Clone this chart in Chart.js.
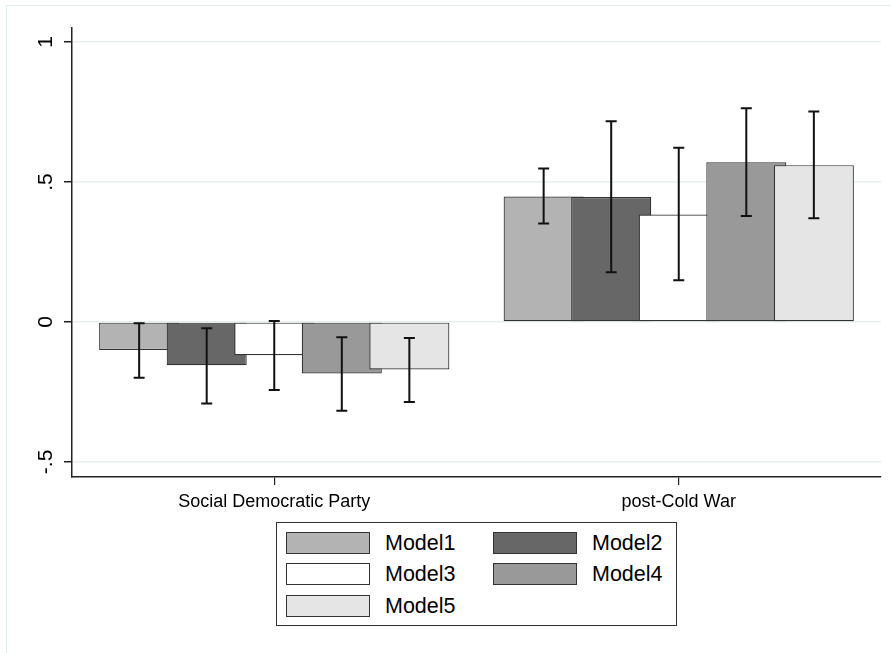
<!DOCTYPE html>
<html>
<head>
<meta charset="utf-8">
<script src="https://cdn.jsdelivr.net/npm/chart.js@4.4.0/dist/chart.umd.min.js"></script>
<style>
  html, body { margin: 0; padding: 0; background: #fff; }
  #wrap { position: relative; width: 891px; height: 653px; overflow: hidden; font-family: "Liberation Sans", Arial, sans-serif; }
  #frame { position: absolute; left: 6px; top: 5px; width: 900px; height: 700px; border-top: 1px solid #e4eef0; border-left: 1px solid #e4eef0; }
  #c { position: absolute; left: 0; top: 0; }
  #legend { position: absolute; left: 276px; top: 522px; width: 401px; height: 104px; border: 1px solid #333; box-sizing: border-box; background: #fff; }
  .sw { position: absolute; width: 84px; height: 22px; box-sizing: border-box; border: 1.5px solid #333; }
  .lb { position: absolute; font-size: 21.5px; line-height: 22px; color: #000; white-space: nowrap; }
</style>
</head>
<body>
<div id="wrap">
  <div id="frame"></div>
  <canvas id="c" width="891" height="653"></canvas>
  <div id="legend"></div>
</div>
<script>
// ---- data ----
const categories = ["Social Democratic Party", "post-Cold War"];
const seriesNames = ["Model1", "Model2", "Model3", "Model4", "Model5"];
const model1 = [-0.100, 0.448];
const model2 = [-0.155, 0.446];
const model3 = [-0.119, 0.384];
const model4 = [-0.184, 0.570];
const model5 = [-0.170, 0.560];
const lower1 = [-0.199, 0.352];
const upper1 = [-0.005, 0.548];
const lower2 = [-0.291, 0.177];
const upper2 = [-0.023, 0.717];
const lower3 = [-0.243, 0.149];
const upper3 = [0.003, 0.622];
const lower4 = [-0.317, 0.378];
const upper4 = [-0.055, 0.763];
const lower5 = [-0.286, 0.370];
const upper5 = [-0.057, 0.752];
const yTickValues = [-0.5, 0, 0.5, 1];
const yTickLabels = ["-.5", "0", ".5", "1"];
const fills = ["#b3b3b3", "#676767", "#ffffff", "#999999", "#e5e5e5"];

const values = [model1, model2, model3, model4, model5];
const lowers = [lower1, lower2, lower3, lower4, lower5];
const uppers = [upper1, upper2, upper3, upper4, upper5];

const datasets = seriesNames.map((name, i) => ({
  label: name,
  data: values[i],
  lower: lowers[i],
  upper: uppers[i],
  backgroundColor: fills[i],
  borderColor: "#333333",
  borderWidth: 1.2,
  borderSkipped: false,
  categoryPercentage: 0.835,
  barPercentage: 1.185
}));

// Draw datasets in forward order (later series overlap earlier), then error bars
const errorBarPlugin = {
  id: "errorBars",
  beforeDatasetsDraw(chart) {
    const ctx = chart.ctx;
    const area = chart.chartArea;
    const metas = chart.getSortedVisibleDatasetMetas();
    ctx.save();
    ctx.beginPath();
    ctx.rect(area.left, area.top, area.right - area.left, area.bottom - area.top);
    ctx.clip();
    metas.forEach(meta => meta.controller.draw());
    ctx.restore();

    const yScale = chart.scales.y;
    ctx.save();
    ctx.strokeStyle = "#111111";
    ctx.lineWidth = 2;
    ctx.lineCap = "butt";
    metas.forEach(meta => {
      const ds = chart.data.datasets[meta.index];
      meta.data.forEach((bar, j) => {
        const x = bar.x;
        const yl = yScale.getPixelForValue(ds.lower[j]);
        const yu = yScale.getPixelForValue(ds.upper[j]);
        const cap = 5.5;
        ctx.beginPath();
        ctx.moveTo(x, yl); ctx.lineTo(x, yu);
        ctx.moveTo(x - cap, yl); ctx.lineTo(x + cap, yl);
        ctx.moveTo(x - cap, yu); ctx.lineTo(x + cap, yu);
        ctx.stroke();
      });
    });
    ctx.restore();
    return false;
  }
};

Chart.defaults.font.family = '"Liberation Sans", Arial, sans-serif';
Chart.defaults.color = "#000";

const chart = new Chart(document.getElementById("c"), {
  type: "bar",
  data: { labels: categories, datasets },
  options: {
    responsive: false,
    animation: false,
    events: [],
    layout: { padding: { top: 28, right: 10, left: 0, bottom: 0 } },
    plugins: { legend: { display: false }, tooltip: { enabled: false } },
    scales: {
      x: {
        offset: true,
        grid: { display: true, offset: false, drawOnChartArea: false, color: "#000", tickColor: "#222", tickLength: 8, lineWidth: 1.2 },
        border: { display: true, color: "#222", width: 1.5 },
        ticks: { font: { size: 18 }, padding: 6, color: "#000" },
        afterFit(s) { s.height = 176; }
      },
      y: {
        min: -0.554,
        max: 1.05,
        afterBuildTicks(s) { s.ticks = yTickValues.map(v => ({ value: v })); },
        grid: { color: "#e8eff1", lineWidth: 1.5, tickColor: "#222", tickLength: 8 },
        border: { display: true, color: "#222", width: 1.5 },
        ticks: {
          font: { size: 21 },
          minRotation: 90, maxRotation: 90,
          crossAlign: "center",
          padding: 6,
          color: "#000",
          callback(v) { const k = yTickValues.indexOf(v); return k >= 0 ? yTickLabels[k] : ""; }
        },
        afterFit(s) { s.width = 72; }
      }
    }
  },
  plugins: [errorBarPlugin]
});

// HTML legend built from the chart's datasets
const legendEl = document.getElementById("legend");
chart.data.datasets.forEach((ds, i) => {
  const col = i % 2, row = Math.floor(i / 2);
  const top = 8.5 + row * 31.6;
  const sw = document.createElement("div");
  sw.className = "sw";
  sw.style.left = (col === 0 ? 9 : 216) + "px";
  sw.style.top = top + "px";
  sw.style.background = ds.backgroundColor;
  const lb = document.createElement("div");
  lb.className = "lb";
  lb.textContent = ds.label;
  lb.style.left = (col === 0 ? 108 : 315) + "px";
  lb.style.top = top + "px";
  legendEl.appendChild(sw);
  legendEl.appendChild(lb);
});
</script>
</body>
</html>
